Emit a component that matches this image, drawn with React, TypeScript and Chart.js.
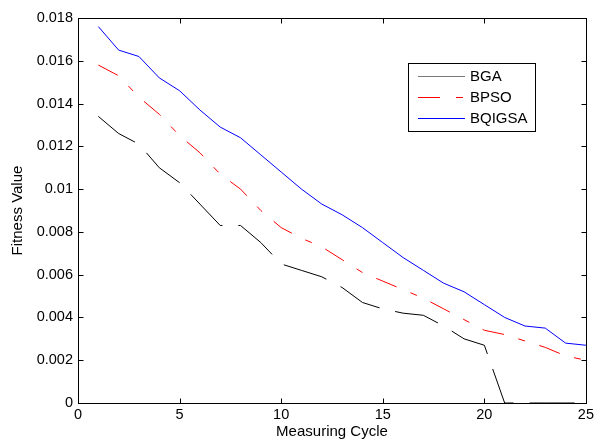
import React, { useEffect, useRef } from "react";
import { Chart, registerables } from "chart.js";

Chart.register(...registerables);

const cycles = [1, 2, 3, 4, 5, 6, 7, 8, 9, 10, 11, 12, 13, 14, 15, 16, 17, 18, 19, 20, 21, 22, 23, 24, 25];
const bgaValues = [0.0134, 0.0126, 0.0121, 0.011, 0.0103, 0.0093, 0.0083, 0.0083, 0.0075, 0.0065, 0.0062, 0.0059, 0.0054, 0.0047, 0.0044, 0.0042, 0.0041, 0.0036, 0.003, 0.0027, 0, 0, 0, 0, 0];
const bpsoValues = [0.0158, 0.0153, 0.0143, 0.0135, 0.0125, 0.0117, 0.0107, 0.01, 0.009, 0.0082, 0.0077, 0.0073, 0.0067, 0.0061, 0.0057, 0.0053, 0.0049, 0.0044, 0.0039, 0.0034, 0.0032, 0.0029, 0.0026, 0.0022, 0.002];
const bqigsaValues = [0.0176, 0.0165, 0.0162, 0.0152, 0.0146, 0.0137, 0.0129, 0.0124, 0.0116, 0.0108, 0.01, 0.0093, 0.0088, 0.0082, 0.0075, 0.0068, 0.0062, 0.0056, 0.0052, 0.0046, 0.004, 0.0036, 0.0035, 0.0028, 0.0027];
const seriesNames = ["BGA", "BPSO", "BQIGSA"];
const xTitle = "Measuring Cycle";
const yTitle = "Fitness Value";

const FONT = "'Liberation Sans', Arial, Helvetica, sans-serif";

const framePlugin = {
  id: "matlabFrame",
  afterDraw(chart: any) {
    const { ctx, chartArea } = chart;
    const { left, right, top, bottom } = chartArea;
    const xs = chart.scales.x;
    const ys = chart.scales.y;
    ctx.save();
    ctx.strokeStyle = "#000";
    ctx.lineWidth = 1;
    ctx.setLineDash([]);
    const L = Math.round(left) + 0.5;
    const R = Math.round(right) + 0.5;
    const T = Math.round(top) + 0.5;
    const B = Math.round(bottom) + 0.5;
    ctx.strokeRect(L, T, R - L, B - T);
    const tl = 5;
    ctx.beginPath();
    xs.ticks.forEach((t: any) => {
      const px = Math.round(xs.getPixelForValue(t.value)) + 0.5;
      ctx.moveTo(px, B);
      ctx.lineTo(px, B - tl);
      ctx.moveTo(px, T);
      ctx.lineTo(px, T + tl);
    });
    ys.ticks.forEach((t: any) => {
      const py = Math.round(ys.getPixelForValue(t.value)) + 0.5;
      ctx.moveTo(L, py);
      ctx.lineTo(L + tl, py);
      ctx.moveTo(R, py);
      ctx.lineTo(R - tl, py);
    });
    ctx.stroke();

    // legend box
    const bx = 408.5, by = 63.5, bw = 127, bh = 68;
    ctx.fillStyle = "#fff";
    ctx.fillRect(bx, by, bw, bh);
    ctx.strokeRect(bx, by, bw, bh);
    const rows = [
      { color: "rgb(120,120,120)", dash: [] as number[] },
      { color: "rgb(255,0,0)", dash: [22, 16, 7, 16] },
      { color: "rgb(0,0,255)", dash: [] as number[] },
    ];
    const rowY = [76.5, 97.5, 118.5];
    ctx.font = `15px ${FONT}`;
    ctx.textBaseline = "middle";
    ctx.textAlign = "left";
    rows.forEach((r, i) => {
      ctx.setLineDash(r.dash);
      ctx.lineWidth = 1;
      ctx.strokeStyle = r.color;
      ctx.beginPath();
      ctx.moveTo(418, rowY[i]);
      ctx.lineTo(465, rowY[i]);
      ctx.stroke();
      ctx.setLineDash([]);
      ctx.fillStyle = "#000";
      ctx.fillText(seriesNames[i], 470, rowY[i] + 0.5);
    });
    ctx.restore();
  },
};

export default function App() {
  const ref = useRef<HTMLCanvasElement | null>(null);
  useEffect(() => {
    if (!ref.current) return;
    const mk = (arr: number[]) => cycles.map((c, i) => ({ x: c, y: arr[i] }));
    const chart = new Chart(ref.current, {
      type: "line",
      data: {
        datasets: [
          {
            label: seriesNames[0],
            data: mk(bgaValues),
            borderColor: "#000000",
            borderWidth: 1,
            borderDash: [45, 16],
            pointRadius: 0,
            tension: 0,
            fill: false,
          },
          {
            label: seriesNames[1],
            data: mk(bpsoValues),
            borderColor: "#ff0000",
            borderWidth: 1,
            borderDash: [22, 15, 7, 15],
            pointRadius: 0,
            tension: 0,
            fill: false,
          },
          {
            label: seriesNames[2],
            data: mk(bqigsaValues),
            borderColor: "#0000ff",
            borderWidth: 1,
            pointRadius: 0,
            tension: 0,
            fill: false,
          },
        ],
      },
      options: {
        responsive: false,
        animation: false,
        devicePixelRatio: 1,
        layout: { padding: { left: 0, top: 18, right: 9, bottom: 0 } },
        plugins: { legend: { display: false }, tooltip: { enabled: false } },
        scales: {
          x: {
            type: "linear",
            min: 0,
            max: 25,
            grid: { display: false, drawTicks: false },
            border: { display: false },
            ticks: { stepSize: 5, color: "#000", font: { family: FONT, size: 14.5 }, padding: 3, maxRotation: 0 },
            title: { display: true, text: xTitle, color: "#000", font: { family: FONT, size: 15 }, padding: { top: 0, bottom: 0 } },
            afterFit: (s: any) => {
              s.height = 38;
            },
          },
          y: {
            type: "linear",
            min: 0,
            max: 0.018,
            grid: { display: false, drawTicks: false },
            border: { display: false },
            ticks: {
              stepSize: 0.002,
              color: "#000",
              font: { family: FONT, size: 14.5 },
              padding: 5,
              callback: (v: any) => String(+Number(v).toFixed(3)),
            },
            title: { display: true, text: yTitle, color: "#000", font: { family: FONT, size: 15 }, padding: { top: 9, bottom: 0 } },
            afterFit: (s: any) => {
              s.width = 78;
            },
          },
        },
      },
      plugins: [framePlugin],
    } as any);
    return () => chart.destroy();
  }, []);
  return (
    <div style={{ position: "fixed", left: 0, top: 0, width: 597, height: 441, background: "#fff" }}>
      <canvas ref={ref} width={597} height={441} style={{ display: "block" }} />
    </div>
  );
}
